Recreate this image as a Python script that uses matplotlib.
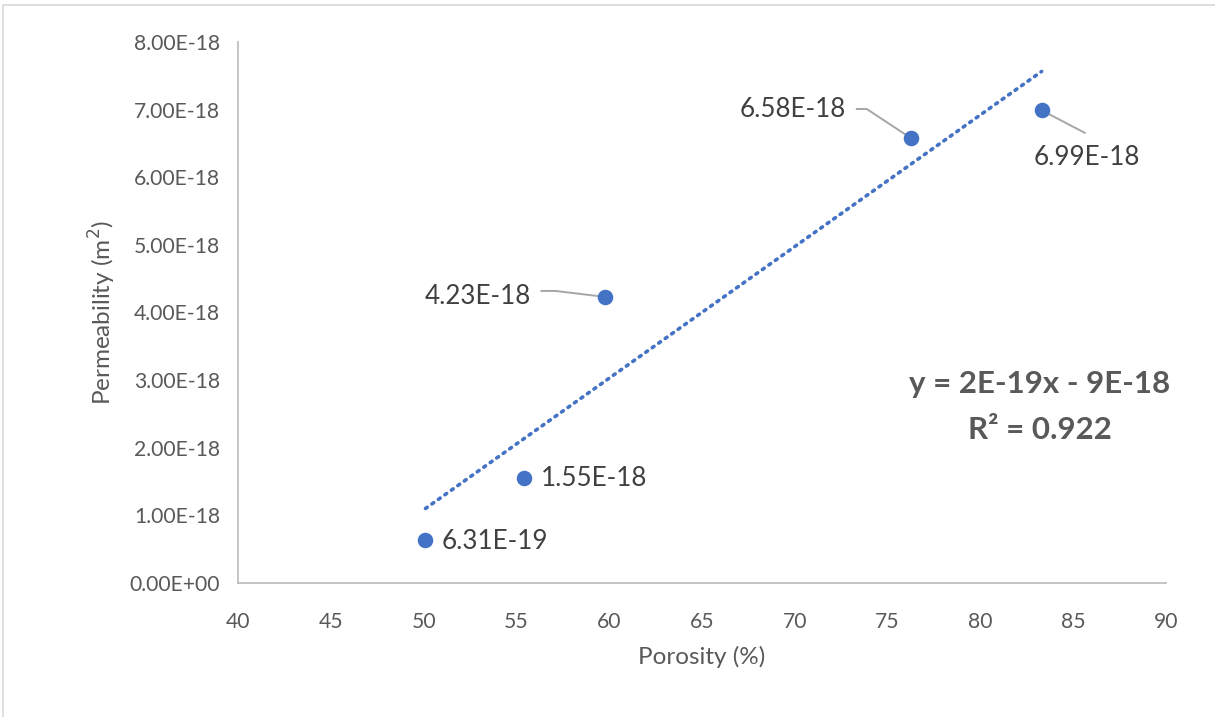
import matplotlib
matplotlib.use("Agg")
import matplotlib.pyplot as plt
from matplotlib.patches import Rectangle
from matplotlib.ticker import FuncFormatter
import numpy as np

# Data
porosity = [50.1, 55.4, 59.8, 76.25, 83.3]
permeability = [6.31e-19, 1.55e-18, 4.23e-18, 6.58e-18, 6.99e-18]
point_labels = ["6.31E-19", "1.55E-18", "4.23E-18", "6.58E-18", "6.99E-18"]
x_ticks = [40, 45, 50, 55, 60, 65, 70, 75, 80, 85, 90]
y_ticks = [0, 1e-18, 2e-18, 3e-18, 4e-18, 5e-18, 6e-18, 7e-18, 8e-18]
equation_text = "y = 2E-19x - 9E-18"
r2_text = "R² = 0.922"

plt.rcParams['font.family'] = ['Lato', 'DejaVu Sans']

W, H, DPI = 1215, 717, 100
fig = plt.figure(figsize=(W / DPI, H / DPI), dpi=DPI)
fig.patch.set_facecolor("white")

# light chart-area border
fig.patches.append(Rectangle((3 / W, -0.01), 1.2, (717 - 5) / H + 0.01,
                             transform=fig.transFigure, fill=False,
                             edgecolor="#D9D9D9", linewidth=1.2))

ax = fig.add_axes([238 / W, (H - 583) / H, (1166 - 238) / W, (583 - 42) / H])
ax.set_xlim(40, 90)
ax.set_ylim(0, 8e-18)
ax.set_xticks(x_ticks)
ax.set_yticks(y_ticks)
ax.yaxis.set_major_formatter(FuncFormatter(lambda v, p: f"{v:.2E}"))
ax.xaxis.set_major_formatter(FuncFormatter(lambda v, p: f"{v:g}"))

for side in ("top", "right"):
    ax.spines[side].set_visible(False)
for side in ("left", "bottom"):
    ax.spines[side].set_color("#BFBFBF")
    ax.spines[side].set_linewidth(1.3)
ax.tick_params(axis="both", length=0, labelsize=15.2, labelcolor="#595959")
ax.tick_params(axis="y", pad=13)
ax.tick_params(axis="x", pad=21)

ax.set_xlabel("Porosity (%)", fontsize=17.5, color="#595959")
ax.set_ylabel("Permeability (m$^2$)", fontsize=17.5, color="#595959")
ax.xaxis.set_label_coords((702 - 238) / 928, (583 - 657) / 541)
ax.yaxis.set_label_coords((102 - 238) / 928, (583 - 313) / 541)
ax.xaxis.label.set_va("center")
ax.yaxis.label.set_va("center")

# linear trendline
x = np.array(porosity)
y = np.array(permeability)
slope, intercept = np.polyfit(x, y, 1)
xt = np.array([x.min(), x.max()])
ax.plot(xt, slope * xt + intercept, color="#4472C4", linewidth=2.6,
        linestyle=(0, (0.6, 1.6)), dash_capstyle="round", zorder=2)

ax.scatter(x, y, s=125, color="#4472C4", zorder=3, linewidths=0)

# data labels, offsets in pixels; leaders as pixel polylines
label_offsets = [(16, -1, "left"), (17, 0, "left"), (-75, 0, "right"),
                 (-65, 29, "right"), (45, -47, "center")]
leaders = [None, None,
           [(-65, 6), (-50, 6), (0, 0)],
           [(-55, 29), (-44, 29), (0, 0)],
           [(0, 0), (44, -23)]]
for xi, yi, lab, (dx, dy, ha), ld in zip(x, y, point_labels, label_offsets, leaders):
    ax.annotate(lab, (xi, yi), xytext=(dx, dy), textcoords="offset pixels",
                ha=ha, va="center", fontsize=18.7, color="#404040", zorder=4)
    if ld:
        px, py = ax.transData.transform((xi, yi))
        pts = [(px + a, py + b) for a, b in ld]
        dpts = ax.transData.inverted().transform(pts)
        ax.plot(dpts[:, 0], dpts[:, 1], color="#A6A6A6", linewidth=1.4,
                zorder=2.5, solid_capstyle="butt")

ax.text(1040, H - 384, equation_text, transform=None, ha="center", va="center",
        fontsize=22.5, fontweight="bold", color="#595959")
ax.text(1040, H - 430, r2_text, transform=None, ha="center", va="center",
        fontsize=22.5, fontweight="bold", color="#595959")

fig.savefig("out.png", dpi=DPI)
